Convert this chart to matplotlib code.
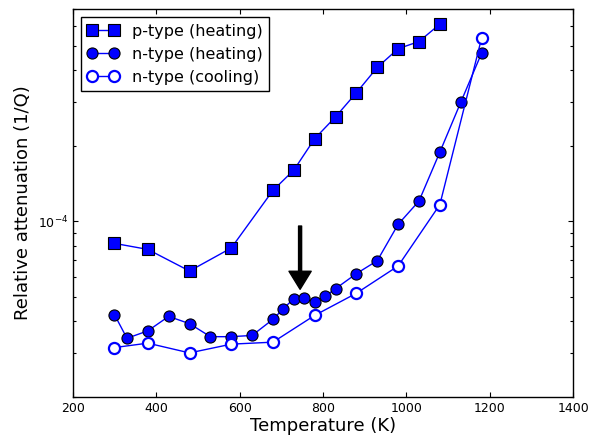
import matplotlib
matplotlib.use('Agg')
import matplotlib.pyplot as plt
import matplotlib.ticker as ticker
import numpy as np

# data (T in K, attenuation in units of 1e-4)
p_heat_T = [300, 380, 480, 580, 680, 730, 780, 830, 880, 930, 980, 1030, 1080]
p_heat_Q = [0.817, 0.773, 0.634, 0.783, 1.329, 1.601, 2.136, 2.61, 3.257, 4.108, 4.877, 5.21, 6.11]

n_heat_T = [300, 330, 380, 430, 480, 530, 580, 630, 680, 705, 730, 755, 780, 805, 830,
            880, 930, 980, 1030, 1080, 1130, 1180]
n_heat_Q = [0.425, 0.342, 0.366, 0.418, 0.391, 0.347, 0.347, 0.351, 0.407, 0.449, 0.492,
            0.493, 0.476, 0.503, 0.539, 0.619, 0.697, 0.973, 1.205, 1.888, 2.98, 4.68]

n_cool_T = [300, 380, 480, 580, 680, 780, 880, 980, 1080, 1180]
n_cool_Q = [0.314, 0.327, 0.299, 0.324, 0.330, 0.422, 0.517, 0.664, 1.166, 5.37]

arrow_T = 745
arrow_from = 0.958
arrow_to = 0.536

scale = 1e-4

fig = plt.figure(figsize=(6.01, 4.36), dpi=100)
ax = fig.add_axes([0.121, 0.0901, 0.833, 0.8885])

ax.plot(p_heat_T, np.array(p_heat_Q) * scale, '-s', color='b', lw=1.0, ms=8,
        mfc='b', mec='k', mew=0.8, label='p-type (heating)')
ax.plot(n_heat_T, np.array(n_heat_Q) * scale, '-o', color='b', lw=1.0, ms=8,
        mfc='b', mec='k', mew=0.8, label='n-type (heating)')
ax.plot(n_cool_T, np.array(n_cool_Q) * scale, '-o', color='b', lw=1.0, ms=8,
        mfc='w', mec='b', mew=1.6, label='n-type (cooling)')

ax.annotate('', xy=(arrow_T, arrow_to * scale), xytext=(arrow_T, arrow_from * scale),
            arrowprops=dict(facecolor='k', edgecolor='k', width=2.2, headwidth=16,
                            headlength=13, shrink=0))

ax.set_yscale('log')
ax.set_xlim(200, 1400)
ax.set_ylim(2e-5, 7e-4)
ax.xaxis.set_major_locator(ticker.MultipleLocator(200))
ax.xaxis.set_minor_locator(ticker.NullLocator())
ax.yaxis.set_minor_formatter(ticker.NullFormatter())

ax.tick_params(which='both', direction='in', top=True, right=True, labelsize=9)
ax.tick_params(which='major', length=3.5, width=0.8)
ax.tick_params(which='minor', length=2, width=0.8)
for s in ax.spines.values():
    s.set_linewidth(1.0)

ax.set_xlabel('Temperature (K)', fontsize=13, labelpad=2)
ax.set_ylabel('Relative attenuation (1/Q)', fontsize=13)

leg = ax.legend(loc='upper left', numpoints=2, fontsize=11.5, fancybox=False,
                framealpha=1, borderpad=0.4, labelspacing=0.5, handlelength=2,
                handletextpad=0.8, borderaxespad=0.5)
leg.get_frame().set_edgecolor('k')
leg.get_frame().set_linewidth(1.0)

fig.savefig('out.png', dpi=100)
